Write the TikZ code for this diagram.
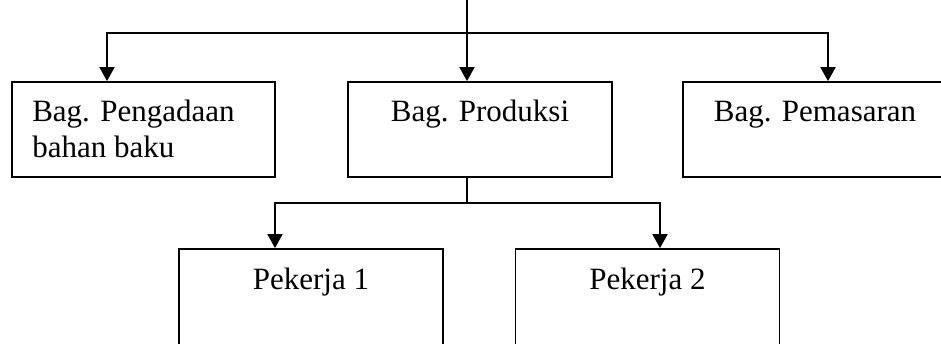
\documentclass[tikz,border=0pt]{standalone}
\usepackage{fontspec}
\setmainfont{Liberation Serif}
\usetikzlibrary{arrows.meta,calc}
\tikzset{
  kotak/.style={draw, line width=1.8pt, minimum width=264pt, inner sep=0pt},
  teks/.style={font=\fontsize{31}{36}\selectfont, inner sep=0pt},
  garis/.style={line width=1.8pt},
  panah/.style={garis, -{Triangle[width=15pt,length=14pt]}},
}
\begin{document}
\begin{tikzpicture}[x=1pt,y=-1pt]
\useasboundingbox (0,0) rectangle (941,344);
\clip (0,0) rectangle (941,344);

% kotak bagian
\node[kotak, minimum width=263pt, minimum height=95pt] (pengadaan) at (143.5,129.5) {};
\node[kotak, minimum height=95pt] (produksi) at (480,129.5) {};
\node[kotak, minimum height=95pt] (pemasaran) at (815,129.5) {};
\node[kotak, minimum height=130pt] (pekerja1) at (311,314) {};
\node[kotak, minimum height=130pt] (pekerja2) at (647.5,314) {};

% teks
\node[teks, align=left, anchor=base west] (tPengadaan) at ([xshift=21pt,yshift=-76pt]pengadaan.north west) {Bag. Pengadaan\\bahan baku};
\node[teks, anchor=base] (tProduksi) at ([yshift=-40pt]produksi.north) {Bag. Produksi};
\node[teks, anchor=base] (tPemasaran) at ([yshift=-40pt]pemasaran.north) {Bag. Pemasaran};
\node[teks, anchor=base] (tPekerja1) at ([yshift=-41pt]pekerja1.north) {Pekerja 1};
\node[teks, anchor=base] (tPekerja2) at ([yshift=-41pt]pekerja2.north) {Pekerja 2};

% garis
\coordinate (puncak) at (467,0);
\coordinate (cabang) at (467,33);
\draw[garis] (puncak) -- (cabang);
\draw[panah] (cabang) -| ([xshift=-36.5pt]pengadaan.north);
\draw[panah] (cabang) -- (cabang |- produksi.north);
\draw[panah] (cabang) -| ([xshift=13pt]pemasaran.north);

\coordinate (cabang2) at ($(produksi.south)+(-13,25)$);
\draw[garis] (produksi.south -| cabang2) -- (cabang2);
\draw[panah] (cabang2) -| ([xshift=-36pt]pekerja1.north);
\draw[panah] (cabang2) -| ([xshift=12.5pt]pekerja2.north);

\end{tikzpicture}
\end{document}
